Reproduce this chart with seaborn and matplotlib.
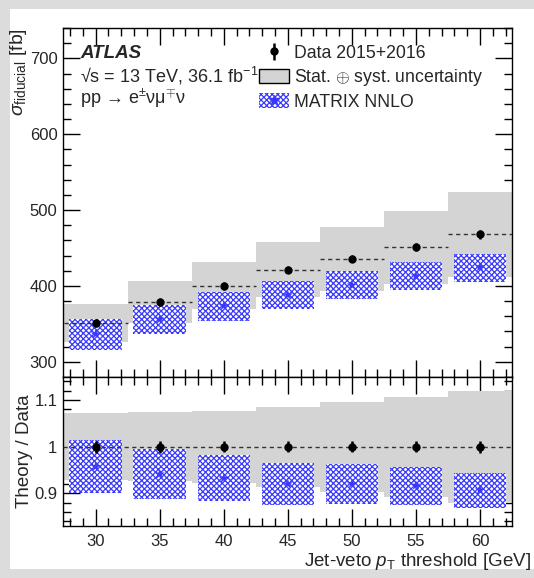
import numpy as np
import pandas as pd
import matplotlib
matplotlib.use("Agg")
import matplotlib.pyplot as plt
import seaborn as sns
from matplotlib.patches import Patch, Rectangle
from matplotlib.lines import Line2D

# ---------------- data ----------------
thresholds = [30, 35, 40, 45, 50, 55, 60]
data_xs = [351, 378.7, 400, 421.6, 436, 451, 468]
data_stat = [5, 5, 5, 5, 5, 5, 6]
band_hi = [376.4, 406.3, 431.4, 458, 478, 499.3, 523.6]
band_lo = [326, 351, 369, 385, 393.5, 402, 412]
matrix_xs = [336.5, 356, 373.8, 388, 401, 413, 425]
matrix_hi = [356.7, 375.5, 392.6, 406.7, 420.3, 432, 442]
matrix_lo = [316, 336.5, 353.6, 369, 382.6, 394.9, 405.8]

ratio_band_hi = [1.0715, 1.075, 1.0764, 1.085, 1.0957, 1.106, 1.119]
ratio_band_lo = [0.928, 0.926, 0.921, 0.914, 0.903, 0.893, 0.880]
ratio_data_err = [0.013, 0.013, 0.012, 0.012, 0.012, 0.012, 0.013]
ratio_theory = [0.957, 0.941, 0.932, 0.920, 0.920, 0.917, 0.907]
ratio_theory_hi = [1.015, 0.994, 0.981, 0.964, 0.962, 0.956, 0.944]
ratio_theory_lo = [0.900, 0.888, 0.884, 0.875, 0.877, 0.876, 0.869]

df = pd.DataFrame({"x": thresholds, "data": data_xs, "matrix": matrix_xs,
                   "ratio": ratio_theory, "one": [1.0] * len(thresholds)})

# ---------------- style ----------------
sns.set_theme(style="ticks")
plt.rcParams["font.family"] = ["Liberation Sans", "DejaVu Sans"]
plt.rcParams["mathtext.fontset"] = "custom"
plt.rcParams["mathtext.rm"] = "Liberation Sans"
plt.rcParams["mathtext.it"] = "Liberation Sans:italic"
plt.rcParams["mathtext.bf"] = "Liberation Sans:bold"
plt.rcParams["hatch.linewidth"] = 0.9
plt.rcParams["hatch.color"] = "#3a3aff"

FS = 12
TFS = 13
GRAY = "#d4d4d4"
BLUE = "#3a3aff"
FRAME = "#dcdcdc"

W, H = 534, 578
fig = plt.figure(figsize=(W / 100, H / 100), dpi=100)
fig.patch.set_facecolor(FRAME)
# white canvas inside a light gray frame on the left, top and bottom
fig.patches.append(Rectangle((10 / W, 9 / H), (W - 10) / W + 0.01, (H - 18) / H,
                             transform=fig.transFigure, facecolor="white",
                             edgecolor="none", zorder=-10))

L, R = 63, 512
ax1 = fig.add_axes([L / W, 1 - 377 / H, (R - L) / W, (377 - 28) / H])
ax2 = fig.add_axes([L / W, 1 - 526 / H, (R - L) / W, (526 - 377) / H], sharex=ax1)

xs = np.array(thresholds, dtype=float)

# ---------------- top panel ----------------
ax1.bar(xs, np.array(band_hi) - np.array(band_lo), bottom=band_lo, width=5.0,
        color=GRAY, edgecolor="none", zorder=1)
ax1.bar(xs, np.array(matrix_hi) - np.array(matrix_lo), bottom=matrix_lo, width=4.1,
        facecolor="white", edgecolor=BLUE, hatch="xxxxxx", linewidth=0, zorder=2)
ax1.hlines(data_xs, xs - 2.5, xs + 2.5, colors="#333333", linestyles=(0, (3, 2.5)),
           linewidth=1.0, zorder=3)
sns.scatterplot(data=df, x="x", y="matrix", marker="*", s=60, color=BLUE,
                edgecolor="none", ax=ax1, zorder=4, legend=False)
eb = ax1.errorbar(xs, data_xs, yerr=data_stat, fmt="o", color="black", ms=5,
                  elinewidth=1.8, capsize=0, zorder=5)

ax1.set_xlim(27.45, 62.5)
ax1.set_ylim(280, 740)
ax1.set_yticks([300, 400, 500, 600, 700])
ax1.yaxis.set_minor_locator(matplotlib.ticker.MultipleLocator(20))
ax1.set_ylabel(r"$\sigma_{\mathrm{fiducial}}$ [fb]", fontsize=14, loc="top")
ax1.yaxis.set_label_coords(-0.076, 1.0)
ax1.set_xlabel("")

ax1.text(0.038, 0.928, "ATLAS", transform=ax1.transAxes, fontsize=TFS + 0.5,
         fontweight="bold", fontstyle="italic", va="center", ha="left")
ax1.text(0.038, 0.862, "√s = 13 TeV, 36.1 fb$^{-1}$", transform=ax1.transAxes,
         fontsize=TFS, va="center", ha="left")
ax1.text(0.038, 0.797, "pp → e$^{\\pm}$νμ$^{\\mp}$ν", transform=ax1.transAxes,
         fontsize=TFS, va="center", ha="left")

h_band = Patch(facecolor=GRAY, edgecolor="black", linewidth=1.0)
h_mat = (Patch(facecolor="white", edgecolor=BLUE, hatch="xxxxxx", linewidth=0),
         Line2D([], [], marker="*", color=BLUE, ls="none", ms=7))
leg = ax1.legend([eb, h_band, h_mat],
                 ["Data 2015+2016", "Stat. $\\oplus$ syst. uncertainty", "MATRIX NNLO"],
                 loc="upper left", bbox_to_anchor=(0.437, 0.952), frameon=False,
                 fontsize=TFS - 0.3, handlelength=1.7, handleheight=0.85,
                 handletextpad=0.3, labelspacing=0.3, borderaxespad=0,
                 borderpad=0)

# ---------------- bottom panel ----------------
ax2.bar(xs, np.array(ratio_band_hi) - np.array(ratio_band_lo), bottom=ratio_band_lo,
        width=5.0, color=GRAY, edgecolor="none", zorder=1)
ax2.bar(xs, np.array(ratio_theory_hi) - np.array(ratio_theory_lo), bottom=ratio_theory_lo,
        width=4.1, facecolor="white", edgecolor=BLUE, hatch="xxxxxx", linewidth=0, zorder=2)
ax2.axhline(1.0, color="#333333", ls=(0, (3, 2.5)), lw=1.0, zorder=3)
sns.scatterplot(data=df, x="x", y="ratio", marker="*", s=60, color=BLUE,
                edgecolor="none", ax=ax2, zorder=4, legend=False)
ax2.errorbar(xs, df["one"], yerr=ratio_data_err, fmt="o", color="black", ms=5,
             elinewidth=1.8, capsize=0, zorder=5)

ax2.set_ylim(0.83, 1.149)
ax2.set_yticks([0.9, 1.0, 1.1])
ax2.set_yticklabels(["0.9", "1", "1.1"])
ax2.yaxis.set_minor_locator(matplotlib.ticker.MultipleLocator(0.02))
ax2.set_xticks(thresholds)
ax2.xaxis.set_minor_locator(matplotlib.ticker.MultipleLocator(1))
ax2.set_ylabel("Theory / Data", fontsize=13.5)
ax2.yaxis.set_label_coords(-0.066, 0.5)
ax2.set_xlabel(r"Jet-veto $p_{\mathrm{T}}$ threshold [GeV]", fontsize=TFS + 0.5, loc="right")
ax2.xaxis.set_label_coords(1.042, -0.165)

for ax in (ax1, ax2):
    for s in ax.spines.values():
        s.set_linewidth(1.0)
        s.set_color("black")
    ax.tick_params(which="both", direction="in", top=True, right=True,
                   labelsize=FS, width=1.0, color="black")
    ax.tick_params(which="major", length=12)
    ax.tick_params(which="minor", length=6)
    ax.tick_params(axis="y", pad=4)
ax1.tick_params(labelbottom=False)
ax2.tick_params(axis="x", pad=6)

fig.savefig("out.png", dpi=100, facecolor=FRAME)
